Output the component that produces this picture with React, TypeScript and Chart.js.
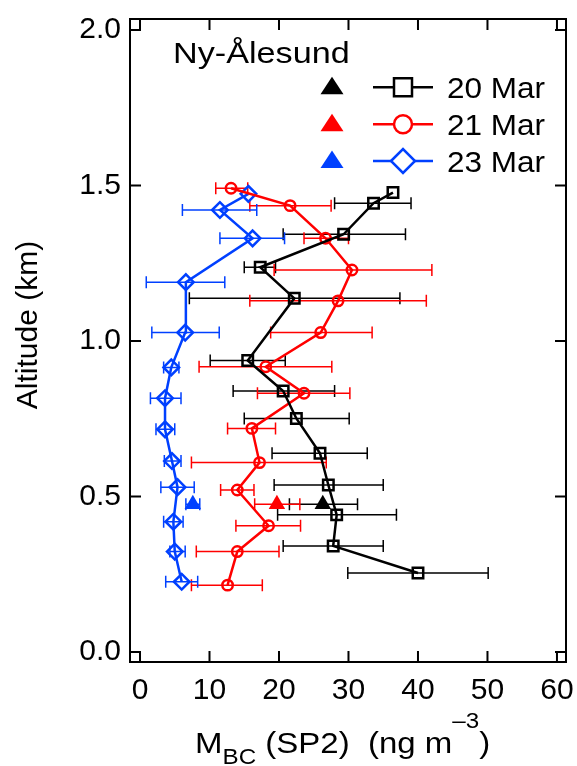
import React, { useEffect, useRef } from 'react';
import { Chart, registerables } from 'chart.js';

Chart.register(...registerables);

// ---------- data ----------
const xTicks = [0, 10, 20, 30, 40, 50, 60];
const xTickLabels = ['0', '10', '20', '30', '40', '50', '60'];
const yTicks = [0, 0.5, 1.0, 1.5, 2.0];
const yTickLabels = ['0.0', '0.5', '1.0', '1.5', '2.0'];

const seriesLabels = ['20 Mar', '21 Mar', '23 Mar'];
const stationLabel = 'Ny-Ålesund';

// 20 Mar (squares)
const alt20 = [0.254, 0.341, 0.441, 0.537, 0.639, 0.751, 0.839, 0.937, 1.137, 1.237, 1.343, 1.443, 1.477];
const mbc20 = [40.0, 27.8, 28.3, 27.1, 25.9, 22.5, 20.6, 15.5, 22.2, 17.3, 29.3, 33.6, 36.4];
const lo20 = [29.9, 20.6, 19.8, 19.3, 19.0, 15.0, 13.4, 10.1, 7.1, 15.0, 20.6, 28.0, null];
const hi20 = [50.1, 35.0, 36.9, 35.0, 32.7, 30.1, 28.0, 20.9, 37.4, 19.5, 38.2, 39.0, null];

// 21 Mar (circles)
const alt21 = [0.215, 0.323, 0.406, 0.521, 0.609, 0.719, 0.832, 0.917, 1.027, 1.129, 1.228, 1.330, 1.435, 1.491];
const mbc21 = [12.6, 14.0, 18.5, 14.0, 17.2, 16.1, 23.6, 18.1, 26.0, 28.5, 30.5, 26.7, 21.6, 13.1];
const lo21 = [7.4, 8.1, 13.8, 11.6, 7.4, 12.6, 16.9, 8.5, 18.8, 15.8, 19.3, 23.6, 15.8, 10.9];
const hi21 = [17.6, 20.0, 23.1, 16.4, 26.8, 19.5, 30.2, 27.6, 33.4, 41.2, 42.0, 30.0, 27.5, 15.5];

// 23 Mar (diamonds)
const alt23 = [0.226, 0.323, 0.419, 0.530, 0.614, 0.716, 0.816, 0.915, 1.027, 1.189, 1.330, 1.421, 1.473];
const mbc23 = [6.0, 5.0, 4.8, 5.4, 4.6, 3.6, 3.6, 4.5, 6.5, 6.6, 16.2, 11.5, 15.6];
const lo23 = [3.7, 4.3, 3.4, 3.0, 3.5, 2.3, 1.5, 3.4, 1.7, 0.9, 11.5, 6.1, null];
const hi23 = [8.3, 6.5, 6.2, 7.8, 5.9, 5.0, 5.9, 5.6, 11.4, 12.2, 20.8, 16.8, null];

// surface values (triangles)
const surfaceAlt = [0.475, 0.475, 0.475];
const surfaceMbc = [26.3, 19.7, 7.6];
const surfaceLo = [21.5, 16.5, 6.6];
const surfaceHi = [31.3, 23.0, 8.6];

// ---------- styles ----------
const colors = ['#000000', '#ff0000', '#0040ff'];
const FONT = "'Liberation Sans', Arial, Helvetica, sans-serif";

type Err = { lo: (number | null)[]; hi: (number | null)[]; y: number[]; color: string };

const errorBarsPlugin = {
  id: 'errorBars',
  beforeDatasetsDraw(chart: any) {
    const errs: Err[] = chart.options.plugins.errorBars.sets;
    const xs = chart.scales.x;
    const ys = chart.scales.y;
    const ctx = chart.ctx;
    ctx.save();
    ctx.lineWidth = 1.5;
    errs.forEach((e) => {
      ctx.strokeStyle = e.color;
      e.y.forEach((yv, i) => {
        const lo = e.lo[i];
        const hi = e.hi[i];
        if (lo == null || hi == null) return;
        const py = ys.getPixelForValue(yv);
        const x1 = xs.getPixelForValue(lo);
        const x2 = xs.getPixelForValue(hi);
        ctx.beginPath();
        ctx.moveTo(x1, py);
        ctx.lineTo(x2, py);
        ctx.moveTo(x1, py - 6);
        ctx.lineTo(x1, py + 6);
        ctx.moveTo(x2, py - 6);
        ctx.lineTo(x2, py + 6);
        ctx.stroke();
      });
    });
    ctx.restore();
  },
};

// draw text stretched horizontally by factor sx
function stretchText(ctx: any, text: string, x: number, y: number, sx: number) {
  ctx.save();
  ctx.translate(x, y);
  ctx.scale(sx, 1);
  ctx.fillText(text, 0, 0);
  ctx.restore();
  return ctx.measureText(text).width * sx;
}

const frameAndTextPlugin = {
  id: 'frameText',
  afterDraw(chart: any) {
    const ctx = chart.ctx;
    const a = chart.chartArea;
    const xs = chart.scales.x;
    const ys = chart.scales.y;
    ctx.save();
    // frame
    ctx.strokeStyle = '#000';
    ctx.lineWidth = 2;
    ctx.strokeRect(a.left, a.top, a.right - a.left, a.bottom - a.top);
    // inward ticks
    const tl = 11;
    ctx.beginPath();
    xTicks.forEach((v) => {
      const px = xs.getPixelForValue(v);
      ctx.moveTo(px, a.bottom);
      ctx.lineTo(px, a.bottom - tl);
      ctx.moveTo(px, a.top);
      ctx.lineTo(px, a.top + tl);
    });
    yTicks.forEach((v) => {
      const py = ys.getPixelForValue(v);
      ctx.moveTo(a.left, py);
      ctx.lineTo(a.left + tl, py);
      ctx.moveTo(a.right, py);
      ctx.lineTo(a.right - tl, py);
    });
    ctx.stroke();

    // y axis title
    ctx.fillStyle = '#000';
    ctx.font = `30px ${FONT}`;
    ctx.save();
    ctx.translate(37, 325);
    ctx.rotate(-Math.PI / 2);
    ctx.textAlign = 'center';
    ctx.textBaseline = 'alphabetic';
    ctx.fillText('Altitude (km)', 0, 0);
    ctx.restore();

    // x axis title with sub/superscript
    ctx.textAlign = 'left';
    ctx.textBaseline = 'alphabetic';
    const base = 753;
    const main = `30px ${FONT}`;
    const small = `22px ${FONT}`;
    const parts: [string, string, number][] = [
      ['M', main, 0],
      ['BC', small, 11],
      [' (SP2)  (ng m', main, 0],
      ['\u20133', small, -25],
      [')', main, 0],
    ];
    let x = 195;
    parts.forEach(([t, f, dy]) => {
      ctx.font = f;
      x += stretchText(ctx, t, x, base + dy, 1.1);
    });

    // legend
    ctx.font = `30px ${FONT}`;
    stretchText(ctx, stationLabel, 173, 63, 1.14);
    const rows = [87.3, 124.3, 161];
    rows.forEach((ry, i) => {
      const c = colors[i];
      // triangle
      ctx.fillStyle = c;
      ctx.beginPath();
      ctx.moveTo(332, ry - 10.5);
      ctx.lineTo(343.5, ry + 7);
      ctx.lineTo(320.5, ry + 7);
      ctx.closePath();
      ctx.fill();
      // line
      ctx.strokeStyle = c;
      ctx.lineWidth = 2.5;
      ctx.beginPath();
      ctx.moveTo(373, ry);
      ctx.lineTo(433, ry);
      ctx.stroke();
      // marker
      const mx = 403;
      ctx.beginPath();
      if (i === 0) {
        ctx.rect(mx - 9, ry - 9, 18, 18);
      } else if (i === 1) {
        ctx.arc(mx, ry, 9, 0, Math.PI * 2);
      } else {
        ctx.moveTo(mx - 12, ry);
        ctx.lineTo(mx, ry - 12);
        ctx.lineTo(mx + 12, ry);
        ctx.lineTo(mx, ry + 12);
        ctx.closePath();
      }
      ctx.fillStyle = '#fff';
      ctx.fill();
      ctx.stroke();
      // text
      ctx.fillStyle = '#000';
      ctx.font = `30px ${FONT}`;
      stretchText(ctx, seriesLabels[i], 447, ry + 11, 1.05);
    });
    ctx.restore();
  },
};

const toPts = (xv: number[], yv: number[]) => xv.map((v, i) => ({ x: v, y: yv[i] }));

const zeroPad = (s: any) => {
  s.paddingLeft = 0;
  s.paddingRight = 0;
  s.paddingTop = 0;
  s.paddingBottom = 0;
};

export default function App() {
  const ref = useRef<HTMLCanvasElement>(null);
  useEffect(() => {
    if (!ref.current) return;
    const styles = ['rect', 'circle', 'rectRot'];
    const radii = [7.4, 5.2, 7.8];
    const profiles = [
      [mbc20, alt20],
      [mbc21, alt21],
      [mbc23, alt23],
    ];
    const lineSets = profiles.map(([xv, yv], i) => ({
      label: seriesLabels[i],
      data: toPts(xv, yv),
      showLine: true,
      borderColor: colors[i],
      borderWidth: 2.5,
      pointStyle: styles[i],
      pointRadius: radii[i],
      pointBorderWidth: 2.5,
      pointBorderColor: colors[i],
      pointBackgroundColor: 'rgba(0,0,0,0)',
      tension: 0,
      fill: false,
    }));
    const triSets = surfaceMbc.map((v, i) => ({
      label: seriesLabels[i] + ' surface',
      data: [{ x: v, y: surfaceAlt[i] }],
      showLine: false,
      pointStyle: 'triangle',
      pointRadius: 9.5,
      pointBorderWidth: 0,
      pointBackgroundColor: colors[i],
      pointBorderColor: colors[i],
    }));
    const errSets: Err[] = [
      { lo: lo20, hi: hi20, y: alt20, color: colors[0] },
      { lo: lo21, hi: hi21, y: alt21, color: colors[1] },
      { lo: lo23, hi: hi23, y: alt23, color: colors[2] },
      { lo: [surfaceLo[0]], hi: [surfaceHi[0]], y: [surfaceAlt[0]], color: colors[0] },
      { lo: [surfaceLo[1]], hi: [surfaceHi[1]], y: [surfaceAlt[1]], color: colors[1] },
      { lo: [surfaceLo[2]], hi: [surfaceHi[2]], y: [surfaceAlt[2]], color: colors[2] },
    ];
    const chart = new Chart(ref.current, {
      type: 'scatter',
      data: { datasets: [...lineSets, ...triSets] as any },
      options: {
        responsive: false,
        animation: false,
        devicePixelRatio: 1,
        layout: { padding: { top: 19, right: 11, left: 0, bottom: 0 } },
        plugins: {
          legend: { display: false },
          tooltip: { enabled: false },
          errorBars: { sets: errSets },
        } as any,
        scales: {
          x: {
            type: 'linear',
            min: -1.44,
            max: 61.3,
            grid: { display: false, drawTicks: false },
            border: { display: false },
            ticks: {
              color: '#000',
              font: { family: FONT, size: 30 },
              padding: 11,
              maxRotation: 0,
              autoSkip: false,
              callback: (v: any) => {
                const i = xTicks.indexOf(Number(v));
                return i >= 0 ? xTickLabels[i] : '';
              },
            },
            afterBuildTicks: (s: any) => {
              s.ticks = xTicks.map((v) => ({ value: v }));
            },
            afterFit: (s: any) => {
              s.height = 104;
              zeroPad(s);
            },
          },
          y: {
            type: 'linear',
            min: -0.032,
            max: 2.035,
            grid: { display: false, drawTicks: false },
            border: { display: false },
            ticks: {
              color: '#000',
              font: { family: FONT, size: 30 },
              padding: 9,
              autoSkip: false,
              callback: (v: any) => {
                const i = yTicks.indexOf(Number(v));
                return i >= 0 ? yTickLabels[i] : '';
              },
            },
            afterBuildTicks: (s: any) => {
              s.ticks = yTicks.map((v) => ({ value: v }));
            },
            afterFit: (s: any) => {
              s.width = 130;
              zeroPad(s);
            },
          },
        },
      } as any,
      plugins: [errorBarsPlugin, frameAndTextPlugin],
    });
    return () => chart.destroy();
  }, []);
  return (
    <div style={{ position: 'absolute', left: 0, top: 0, width: 577, height: 766, background: '#fff' }}>
      <canvas ref={ref} width={577} height={766} style={{ display: 'block' }} />
    </div>
  );
}
